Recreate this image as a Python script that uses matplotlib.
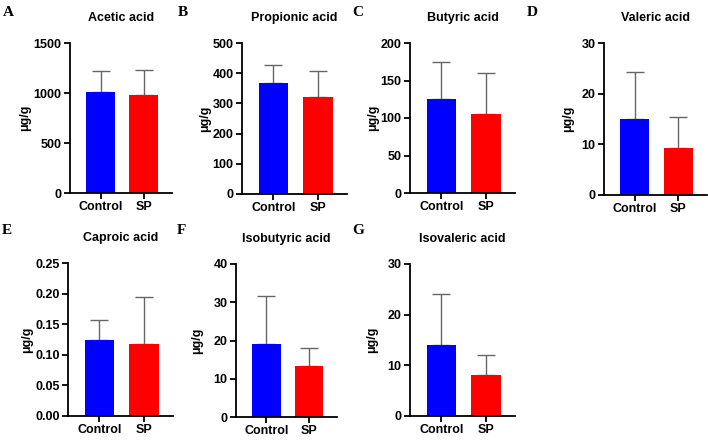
import matplotlib
matplotlib.use("Agg")
import matplotlib.pyplot as plt

groups = ["Control", "SP"]
titles = ["Acetic acid", "Propionic acid", "Butyric acid", "Valeric acid",
          "Caproic acid", "Isobutyric acid", "Isovaleric acid"]
letters = ["A", "B", "C", "D", "E", "F", "G"]
means = [[1010, 985], [368, 322], [125, 105], [15.0, 9.3],
         [0.125, 0.118], [19.2, 13.3], [14.0, 8.0]]
sds = [[210, 250], [59, 86], [50, 55], [9.2, 6.0],
       [0.032, 0.076], [12.5, 4.8], [10.0, 4.0]]
ymax = [1500, 500, 200, 30, 0.25, 40, 30]
yticks = [[0, 500, 1000, 1500], [0, 100, 200, 300, 400, 500], [0, 50, 100, 150, 200],
          [0, 10, 20, 30], [0, 0.05, 0.10, 0.15, 0.20, 0.25], [0, 10, 20, 30, 40], [0, 10, 20, 30]]
ytick_fmt = ["{:.0f}"] * 4 + ["{:.2f}"] + ["{:.0f}"] * 2
colors = ["#0000FF", "#FF0000"]

W, H = 708, 445
# pixel boxes: left, right, top, bottom
boxes = [(70, 172, 43, 193), (242, 347, 43, 194), (410, 515, 43, 193), (604, 707, 43, 195),
         (68, 173, 263, 416), (236, 337, 264, 417), (410, 515, 264, 416)]
letter_pos = [(3, 12), (178, 12), (352, 12), (527, 12), (2, 230), (177, 230), (352, 230)]
ylabel_x = [25, 205, 373, 568, 27, 197, 372]

plt.rcParams['font.family'] = ['Liberation Sans', 'DejaVu Sans']
fig = plt.figure(figsize=(W / 100, H / 100), dpi=100)

for i in range(7):
    l, r, t, b = boxes[i]
    ax = fig.add_axes([l / W, 1 - b / H, (r - l) / W, (b - t) / H])
    x = [0, 1]
    ax.bar(x, means[i], width=0.67, color=colors, zorder=2)
    ax.errorbar(x, means[i], yerr=[[0, 0], sds[i]], fmt='none', ecolor='#666666',
                elinewidth=1.0, capsize=6.5, capthick=1.0, zorder=1)
    ax.set_xlim(-0.71, 1.66)
    ax.set_ylim(0, ymax[i])
    ax.set_yticks(yticks[i])
    ax.set_yticklabels([ytick_fmt[i].format(v) for v in yticks[i]], fontsize=9, fontweight='bold')
    ax.set_xticks(x)
    ax.set_xticklabels(groups, fontsize=9, fontweight='bold')
    for s in ['top', 'right']:
        ax.spines[s].set_visible(False)
    for s in ['left', 'bottom']:
        ax.spines[s].set_linewidth(1.3)
    ax.tick_params(width=1.3, length=4, pad=2)
    ax.set_title(titles[i], fontsize=9, fontweight='bold', pad=16)
    fig.text(ylabel_x[i] / W, 1 - ((t + b) / 2) / H, "μg/g", rotation=90,
             ha='center', va='center', fontsize=9, fontweight='bold')
    lx, ly = letter_pos[i]
    fig.text(lx / W, 1 - ly / H, letters[i], ha='left', va='center', fontsize=11,
             fontweight='bold', family=['Liberation Serif', 'DejaVu Serif'])

fig.savefig("out.png", dpi=100)
